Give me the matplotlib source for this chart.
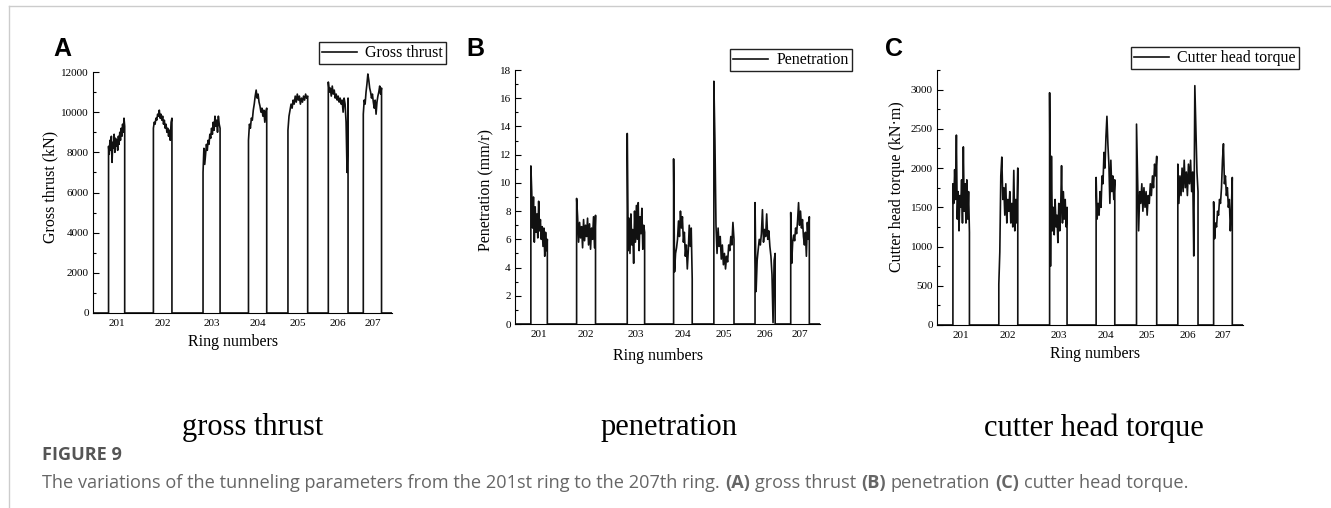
import matplotlib.pyplot as plt
import numpy as np
from matplotlib.lines import Line2D
from matplotlib.ticker import MultipleLocator

# Ring numbers and where each ring's record sits on the (0-100) record axis
ring_numbers = [201, 202, 203, 204, 205, 206, 207]
seg_start = [5.2, 20.2, 36.8, 52.0, 65.2, 78.7, 90.4]
seg_end = [10.6, 26.4, 42.5, 58.1, 71.8, 85.3, 96.5]

# Gross thrust (kN), one list per ring
thrust = [
    [8300, 7900, 8600, 8100, 8800, 7500, 8500, 8200, 8900, 8000, 8700, 8300,
     8600, 8100, 8800, 8400, 9000, 8600, 9200, 8800, 9400, 9000, 9700, 9300],
    [9200, 9500, 9400, 9700, 9600, 9900, 9800, 10100, 9700, 9900, 9600, 9800,
     9400, 9600, 9200, 9400, 9000, 9200, 8800, 9100, 8600, 9500, 9700],
    [7000, 8200, 7400, 7900, 8400, 8100, 8600, 8400, 8900, 8700, 9200, 8900,
     9500, 9100, 9800, 9300, 9600, 9000, 9800, 9400, 9200],
    [8600, 9400, 9200, 9700, 9600, 10100, 10400, 10800, 11100, 10700, 10900,
     10500, 10300, 10000, 10200, 9800, 10100, 9500, 10000, 10200],
    [9100, 9800, 10100, 10400, 10200, 10600, 10400, 10800, 10500, 10900, 10600,
     10800, 10400, 10700, 10500, 10800, 10600, 10900, 10700, 10800],
    [11500, 11000, 11200, 10800, 11300, 10900, 11100, 10700, 10900, 10600, 10800,
     10500, 10700, 10400, 10600, 10000, 10700, 10400, 9500, 7000, 10700],
    [9900, 10600, 10400, 11000, 11400, 11900, 11600, 11200, 11000, 10700, 10900,
     10500, 10200, 10600, 9900, 10500, 10800, 11000, 11300, 10900, 11200],
]

# Penetration (mm/r)
penetration = [
    [11.2, 9.4, 6.8, 9.0, 5.8, 8.3, 6.5, 7.8, 6.1, 8.7, 6.6, 7.4, 6.0, 6.9,
     5.5, 6.8, 4.8, 6.5, 5.2, 6.0],
    [8.9, 7.6, 5.8, 7.2, 6.1, 6.9, 5.4, 7.4, 5.9, 7.0, 6.2, 7.5, 5.6, 7.1,
     5.3, 6.8, 6.0, 7.6, 5.4, 7.7],
    [13.5, 5.2, 7.5, 5.0, 7.8, 5.6, 6.7, 4.3, 8.0, 5.8, 8.4, 6.0, 8.6, 5.2,
     7.6, 6.4, 8.2, 5.3, 7.0, 6.5],
    [11.7, 3.7, 5.0, 5.4, 6.0, 7.3, 6.2, 8.0, 6.8, 7.6, 5.8, 6.5, 4.8, 5.6,
     3.9, 5.2, 7.0, 5.5, 6.8, 3.2],
    [17.2, 13.0, 7.0, 5.0, 6.8, 5.5, 6.2, 4.6, 5.6, 4.2, 5.0, 3.9, 4.8, 4.4,
     5.6, 5.2, 6.2, 5.6, 7.2, 6.0],
    [8.6, 2.3, 4.5, 5.3, 6.0, 5.6, 6.4, 8.1, 5.8, 6.7, 6.2, 7.8, 6.0, 6.6,
     5.5, 4.8, 3.5, 0.1, 4.5, 5.0],
    [7.9, 4.3, 5.8, 6.3, 5.9, 6.8, 6.4, 7.3, 8.6, 7.0, 8.0, 6.8, 7.4, 6.2,
     5.6, 6.5, 4.8, 7.2, 6.0, 7.6],
]

# Cutter head torque (kN·m)
torque = [
    [1800, 1550, 1980, 1600, 2420, 1350, 1700, 1200, 1650, 1500, 1850, 1300,
     2270, 1450, 1800, 1300, 1850, 1350, 1700, 1180],
    [520, 930, 1900, 2140, 1600, 1750, 1400, 1800, 1300, 1600, 1450, 1700,
     1300, 1550, 1250, 1970, 1200, 1600, 1300, 2000],
    [2960, 750, 2150, 1200, 1500, 1150, 1600, 1250, 1400, 1050, 1550, 1200,
     1450, 2030, 1300, 1700, 1350, 1600, 1250, 1500],
    [1880, 1350, 1550, 1400, 1700, 1500, 1900, 1800, 2200, 2000, 2400, 2660,
     2300, 2050, 1550, 2100, 1700, 1900, 1600, 1850],
    [2560, 1900, 1200, 1700, 1550, 1800, 1450, 1750, 1500, 1700, 1400, 1650,
     1550, 1800, 1650, 1900, 1750, 2050, 1900, 2150],
    [2050, 1550, 1900, 1650, 2000, 1700, 2100, 1750, 1950, 1650, 2050, 1800,
     2100, 1700, 1950, 880, 3050, 2500, 1950, 1700],
    [1570, 1100, 1300, 1250, 1450, 1400, 1600, 1550, 1750, 2100, 2310, 1800,
     1900, 1650, 1750, 1500, 1600, 1200, 1450, 1880],
]

serif = "Liberation Serif"
W, H = 1331, 508


def fx(px):
    return px / W


def fy(py):
    return 1 - py / H


def build_series(rings):
    xs, ys = [0.0], [0.0]
    for s, e, vals in zip(seg_start, seg_end, rings):
        xs += [s] + list(np.linspace(s, e, len(vals))) + [e]
        ys += [0] + list(vals) + [0]
    xs.append(100.0)
    ys.append(0.0)
    return xs, ys


fig = plt.figure(figsize=(13.31, 5.08), dpi=100)

# data, axes box (left, top, right, bottom) in px, y top, major, minor, y label,
# legend label, legend corner, subtitle, subtitle x, ylabel coords, xlabel coords
panels = [
    (thrust, (93, 72, 392, 313), 12000, 2000, 1000, "Gross thrust (kN)", "Gross thrust",
     (446, 42), "gross thrust", 253, (-0.117, 0.523), (0.47, -0.087)),
    (penetration, (515, 70, 820, 324), 18, 2, 1, "Penetration (mm/r)", "Penetration",
     (852, 49), "penetration", 669, (-0.068, 0.528), (0.47, -0.094)),
    (torque, (937, 70, 1243, 325), 3250, 500, 250, "Cutter head torque (kN\u00b7m)", "Cutter head torque",
     (1299, 47), "cutter head torque", 1094, (-0.105, 0.541), (0.516, -0.082)),
]

for (data, (l, t, r, b), ytop, major, minor, ylabel, leg, legpos,
     subtitle, subx, ylc, xlc) in panels:
    ax = fig.add_axes([fx(l), fy(b), fx(r - l), (b - t) / H])
    xs, ys = build_series(data)
    ax.plot(xs, ys, color="#111111", linewidth=1.2, label=leg)
    ax.set_xlim(0, 100)
    ax.set_ylim(0, ytop)
    ax.spines["top"].set_visible(False)
    ax.spines["right"].set_visible(False)
    ax.yaxis.set_major_locator(MultipleLocator(major))
    ax.yaxis.set_minor_locator(MultipleLocator(minor))
    centers = [(s + e) / 2 for s, e in zip(seg_start, seg_end)]
    ax.set_xticks(centers)
    ax.set_xticklabels([str(n) for n in ring_numbers])
    ax.tick_params(axis="x", length=0, pad=4, labelsize=8)
    ax.tick_params(axis="y", which="major", direction="in", length=4, width=0.8, labelsize=8, pad=3)
    ax.tick_params(axis="y", which="minor", direction="in", length=2, width=0.8)
    for lab in ax.get_xticklabels() + ax.get_yticklabels():
        lab.set_family(serif)
    ax.set_ylabel(ylabel, family=serif, fontsize=11.5)
    ax.yaxis.set_label_coords(*ylc)
    ax.set_xlabel("Ring numbers", family=serif, fontsize=11.5)
    ax.xaxis.set_label_coords(*xlc)
    ax.legend(loc="upper right", bbox_to_anchor=(fx(legpos[0]), fy(legpos[1])),
              bbox_transform=fig.transFigure, fancybox=False, framealpha=1,
              edgecolor="#222222", borderpad=0.2, borderaxespad=0, handlelength=2.2,
              handletextpad=0.5, prop={"family": serif, "size": 11.5})
    fig.text(fx(subx), fy(428), subtitle, family=serif, fontsize=22,
             ha="center", va="center")

for letter, (lx, ly) in zip("ABC", [(62, 49), (475, 49), (894, 49)]):
    fig.text(fx(lx), fy(ly), letter, family="Liberation Sans", weight="bold",
             fontsize=18, ha="center", va="center")

# Card border
fig.add_artist(Line2D([fx(9), 1], [fy(6), fy(6)], color="#cccccc", linewidth=1,
                      transform=fig.transFigure))
fig.add_artist(Line2D([fx(9), fx(9)], [0, fy(6)], color="#cccccc", linewidth=1,
                      transform=fig.transFigure))

# Caption
fig.text(fx(42), fy(455), "FIGURE 9", family="Open Sans", weight="bold",
         fontsize=13.1, color="#555555", va="center")
caption = [
    ("The variations of the tunneling parameters from the 201st ring to the 207th ring.", "normal"),
    ("(A)", "bold"), ("gross thrust", "normal"), ("(B)", "bold"),
    ("penetration", "normal"), ("(C)", "bold"), ("cutter head torque.", "normal"),
]
prev = fig.text(fx(42), fy(483), caption[0][0], family="Open Sans", fontsize=13.1,
                color="#666666", va="center")
for txt, wt in caption[1:]:
    prev = fig.axes[0].annotate(
        txt, xy=(1, 0), xycoords=prev, xytext=(3.6, 0), textcoords="offset points",
        va="bottom", ha="left", family="Open Sans", fontsize=13.1, weight=wt,
        color="#666666", annotation_clip=False)

fig.savefig("out.png", dpi=100)
